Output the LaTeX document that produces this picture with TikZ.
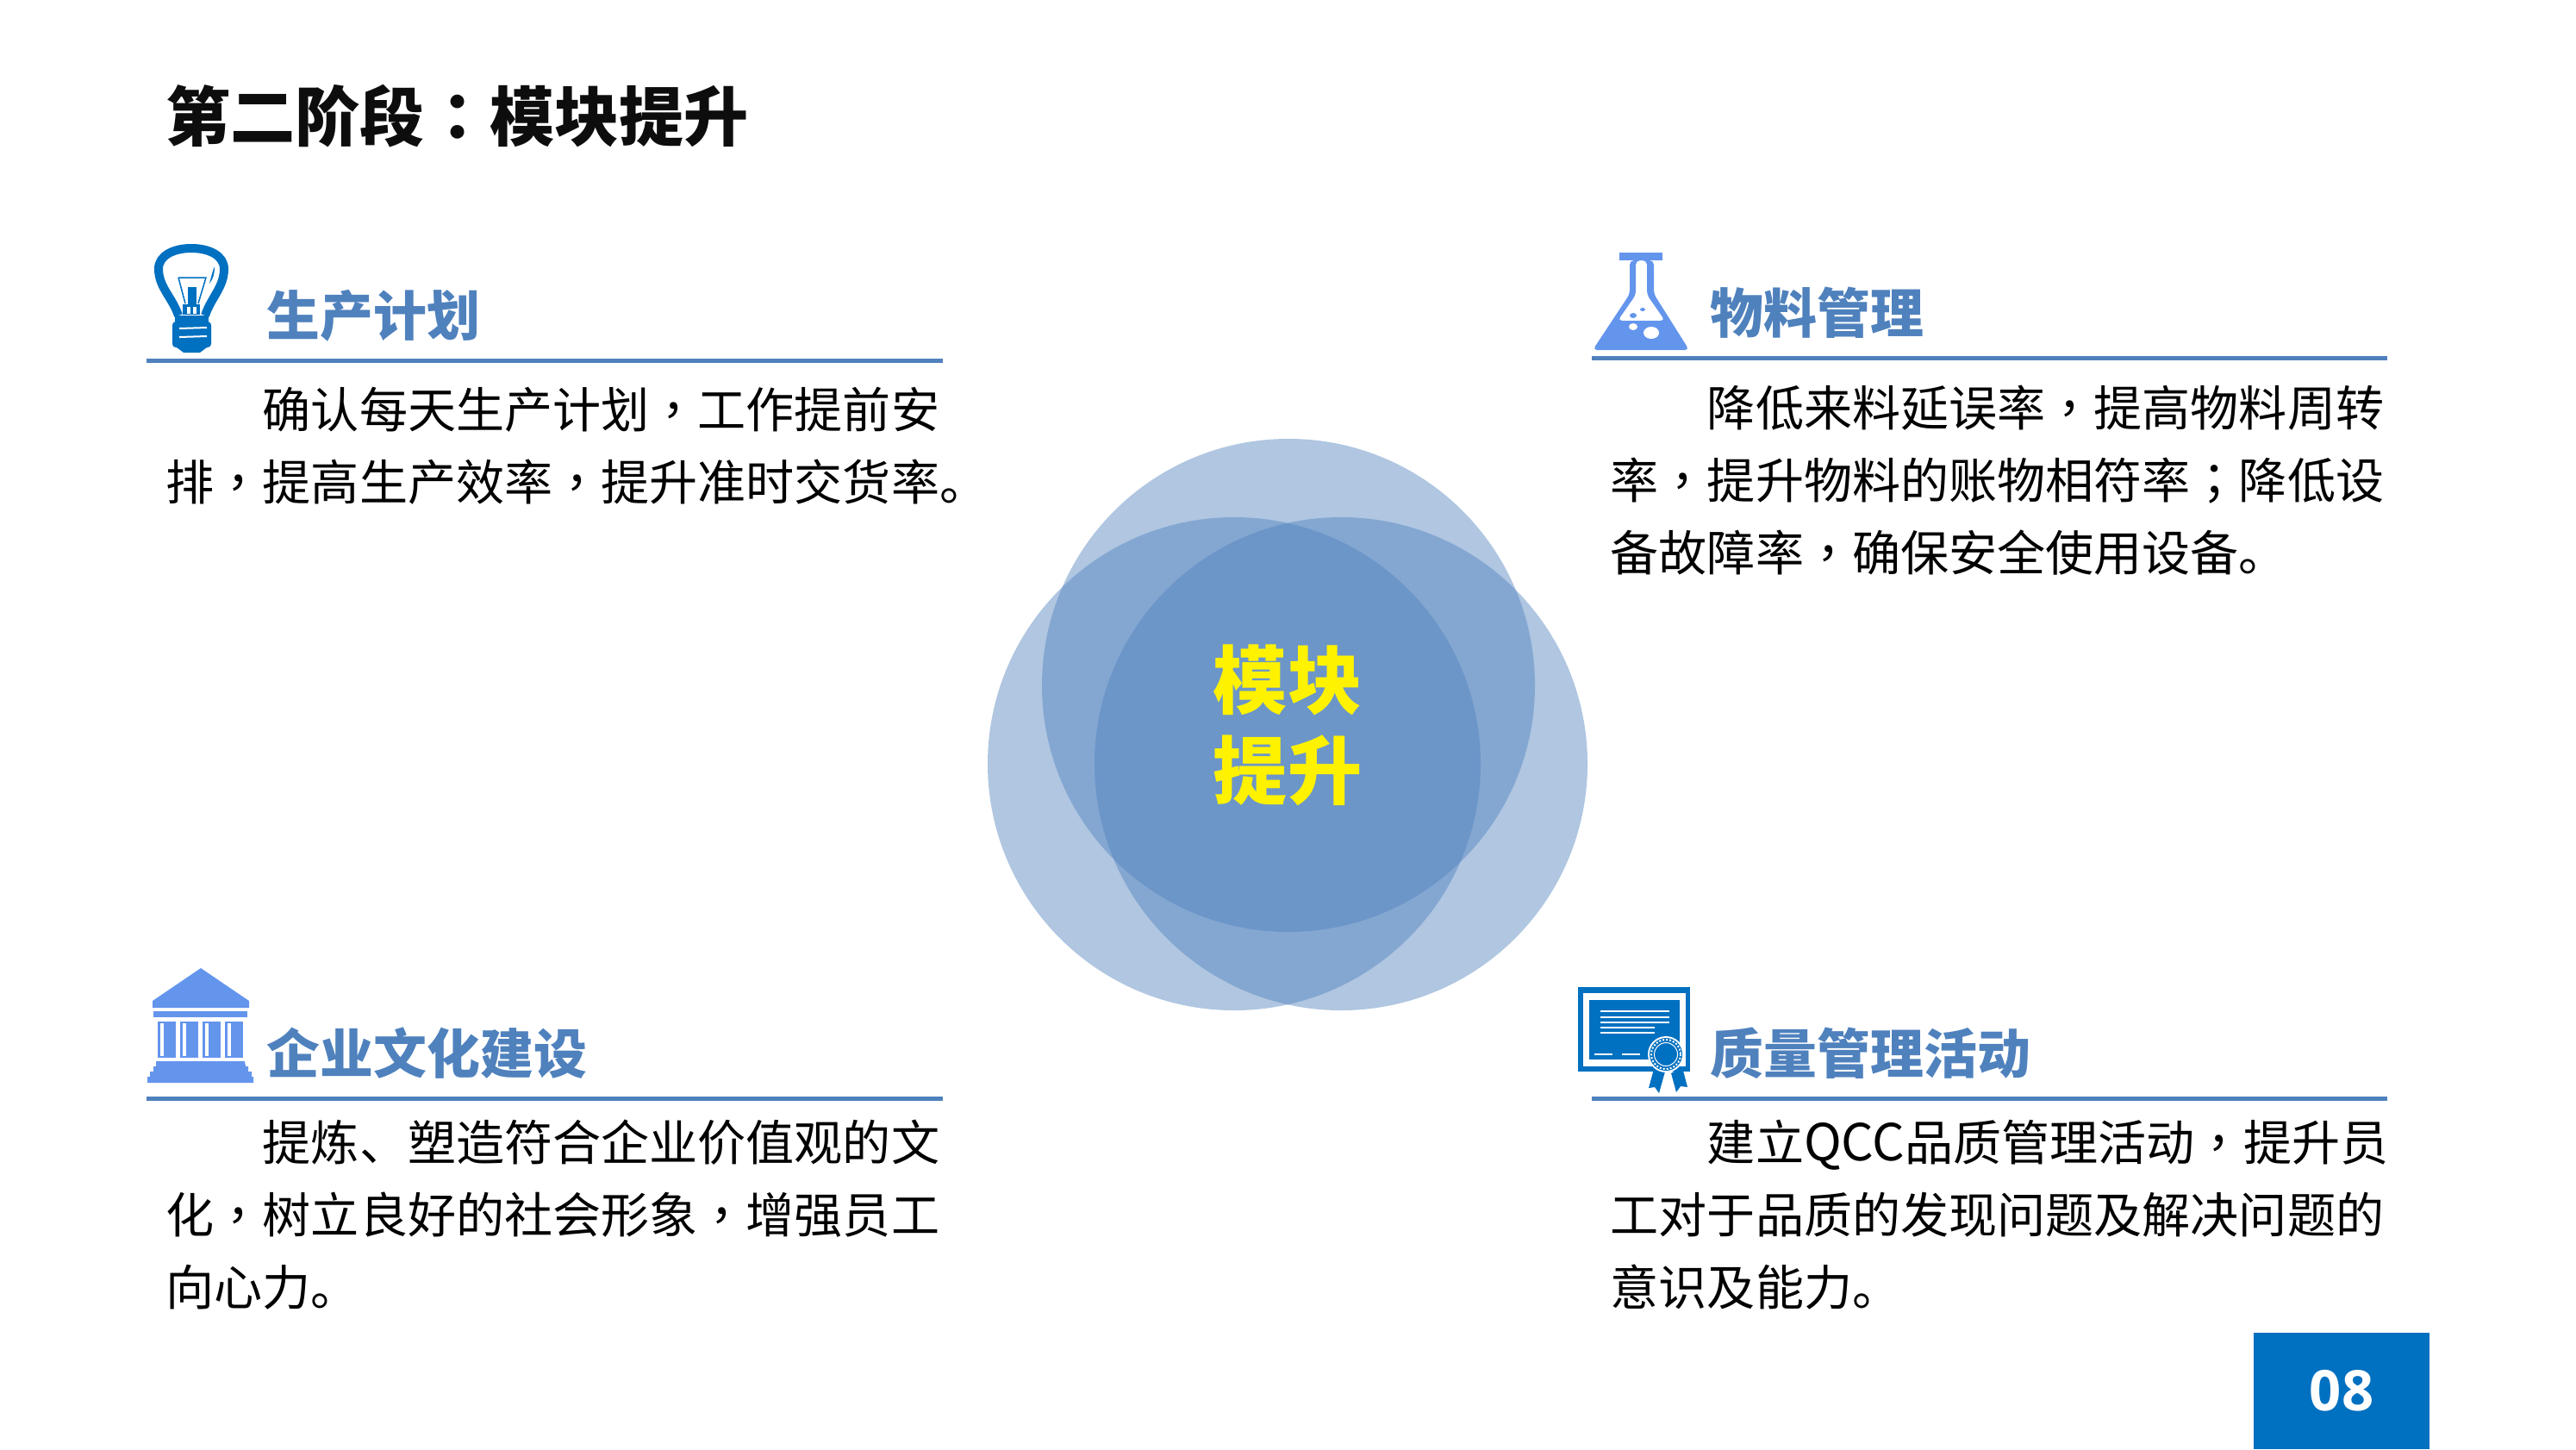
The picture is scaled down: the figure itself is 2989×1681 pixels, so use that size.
\documentclass[tikz,border=0pt]{standalone}
\usepackage{fontspec}
\setmainfont{Noto Sans CJK SC}
\setsansfont{Open Sans}
\newfontfamily\punctfont{Noto Sans CJK TC}
\newcommand{\zhcomma}{{\punctfont ，}}
\newcommand{\zhcolon}{{\punctfont ：}}
\newcommand{\zhsemi}{{\punctfont ；}}
\definecolor{headblue}{HTML}{4F81BD}
\definecolor{iconblue}{HTML}{6495ED}
\definecolor{deepblue}{HTML}{0070C0}
\tikzset{
  titletext/.style={anchor=west, inner sep=0pt, text=black!95, font=\fontsize{21.35}{26}\selectfont\bfseries},
  headtext/.style={anchor=west, inner sep=0pt, text=headblue, font=\fontsize{17.6}{22}\selectfont\bfseries},
  bodytext/.style={anchor=north west, inner sep=0pt, align=left, font=\fontsize{15.95}{23.9}\selectfont},
  headrule/.style={draw=headblue, line width=0.05cm},
  petal/.style={fill=headblue, fill opacity=0.45},
}
\begin{document}
\begin{tikzpicture}[x=0.01cm, y=-0.01cm]
    \useasboundingbox (0,0) rectangle (2989,1681);

    % Title
    \node[titletext] (title) at (192,135) {第二阶段\zhcolon 模块提升};

    % Three circles
    \fill[petal] (1495,795) circle (286);
    \fill[petal] (1432,886) circle (286);
    \fill[petal] (1556,886) circle (286);
    \node[inner sep=0pt, align=center, text=yellow, font=\fontsize{24.5}{29.9}\selectfont\bfseries] (core) at (1494,841) {模块\\提升};

    % Headings and rules
    \node[headtext] (plan) at (309,366) {生产计划};
    \node[headtext] (material) at (1984,363) {物料管理};
    \node[headtext] (culture) at (309,1222) {企业文化建设};
    \node[headtext] (quality) at (1984,1222) {质量管理活动};
    \draw[headrule] (170,418) -- (1094,418);
    \draw[headrule] (1847,415) -- (2770,415);
    \draw[headrule] (170,1274) -- (1094,1274);
    \draw[headrule] (1847,1274) -- (2770,1274);

    % Body text
    \node[bodytext] (plantext) at (192,448) {\hspace{2em}确认每天生产计划\zhcomma 工作提前安\\排\zhcomma 提高生产效率\zhcomma 提升准时交货率。};
    \node[bodytext] (materialtext) at (1868,446) {\hspace{2em}降低来料延误率\zhcomma 提高物料周转\\率\zhcomma 提升物料的账物相符率\zhsemi 降低设\\备故障率\zhcomma 确保安全使用设备。};
    \node[bodytext] (culturetext) at (192,1298) {\hspace{2em}提炼、塑造符合企业价值观的文\\化\zhcomma 树立良好的社会形象\zhcomma 增强员工\\向心力。};
    \node[bodytext] (qualitytext) at (1868,1298) {\hspace{2em}建立{\fontsize{16.8}{23.9}\selectfont QCC}品质管理活动\zhcomma 提升员\\工对于品质的发现问题及解决问题的\\意识及能力。};

    % Page badge
    \fill[deepblue] (2615,1546) rectangle (2819,1681);
    \node[inner sep=0pt, text=white, font=\fontsize{18.5}{22}\sffamily\bfseries] (page) at (2717,1613) {08};

    % Bulb
    \draw[deepblue, line width=0.1cm] (207,366) .. controls (200,345) and (184,333) .. (184,312) .. controls (184,296) and (202,288) .. (222,288) .. controls (242,288) and (260,296) .. (260,312) .. controls (260,333) and (245,345) .. (238,366);
    \fill[deepblue] (203,366) rectangle (242,374);
    \fill[deepblue, rounded corners=0.04cm] (200,373) rectangle (245,403);
    \fill[deepblue] (205,403) -- (240,403) -- (232,409) -- (213,409) -- cycle;
    \draw[white, line width=0.02cm] (208,381) -- (240,380);
    \draw[white, line width=0.02cm] (208,391) -- (240,390);
    \draw[deepblue, line width=0.015cm] (207,322) -- (239,322) -- (230,352);
    \draw[deepblue, line width=0.015cm] (207,322) -- (215,352);
    \fill[deepblue] (218,333) rectangle (228,355);
    \fill[deepblue] (212,353) rectangle (232,365);
    \fill[white] (217,356) rectangle (221,364);
    \fill[white] (224,356) rectangle (228,364);
    \fill[deepblue] (249,309) .. controls (249,318) and (247,324) .. (243,329) .. controls (245,322) and (246,316) .. (249,309);

    % Flask
    \fill[iconblue] (1879,293) rectangle (1929,302);
    \fill[iconblue, even odd rule, rounded corners=0.05cm] (1891,302) -- (1919,302) -- (1919,341) -- (1960,406) -- (1848,406) -- (1891,341) -- cycle
        (1898,302) -- (1911,302) -- (1911,342) -- (1932,372) -- (1877,372) -- (1898,342) -- cycle;
    \fill[iconblue] (1895,366) ellipse (4 and 3);
    \fill[iconblue] (1906,359) ellipse (3 and 2);
    \fill[white] (1895,379) ellipse (5 and 4);
    \fill[white] (1916,386) ellipse (9 and 7);

    % Building
    \fill[iconblue] (233,1123) -- (289,1161) -- (289,1169) -- (177,1169) -- (177,1161) -- cycle;
    \fill[iconblue] (178,1173) rectangle (287,1180);
    \foreach \colx in {183,209,235,261} {
        \fill[iconblue] (\colx,1185) rectangle ++(21,42);
        \fill[white] (\colx+3,1187) rectangle ++(4,38);
    }
    \fill[iconblue] (181,1231) -- (284,1231) -- (285,1237) -- (288,1237) -- (288,1243) -- (292,1243) -- (292,1249) -- (294,1249) -- (294,1256) -- (171,1256) -- (171,1249) -- (174,1249) -- (174,1243) -- (178,1243) -- (178,1237) -- (181,1237) -- cycle;

    % Certificate
    \fill[deepblue] (1831,1145) rectangle (1961,1243);
    \fill[white] (1837,1152) rectangle (1956,1237);
    \fill[deepblue] (1844,1160) rectangle (1949,1229);
    \foreach \liney in {1173,1180,1186} {
        \draw[white, line width=0.015cm] (1857,\liney) -- (1937,\liney);
    }
    \foreach \liney in {1192,1198} {
        \draw[white, line width=0.015cm] (1857,\liney) -- (1920,\liney);
    }
    \draw[white, line width=0.015cm] (1850,1223) -- (1871,1223);
    \draw[white, line width=0.015cm] (1882,1223) -- (1903,1223);
    \fill[deepblue] (1919,1240) -- (1913,1262) -- (1920,1261) -- (1925,1268) -- (1932,1243) -- cycle;
    \fill[deepblue] (1939,1245) -- (1945,1267) -- (1950,1260) -- (1958,1261) -- (1952,1238) -- cycle;
    \fill[white] (1933,1223) circle (21);
    \fill[deepblue] (1933,1223) circle (19);
    \draw[white, line width=0.02cm, dash pattern=on 0.02cm off 0.02cm] (1933,1223) circle (17);
    \draw[white, line width=0.01cm] (1933,1223) circle (13.5);
\end{tikzpicture}
\end{document}
